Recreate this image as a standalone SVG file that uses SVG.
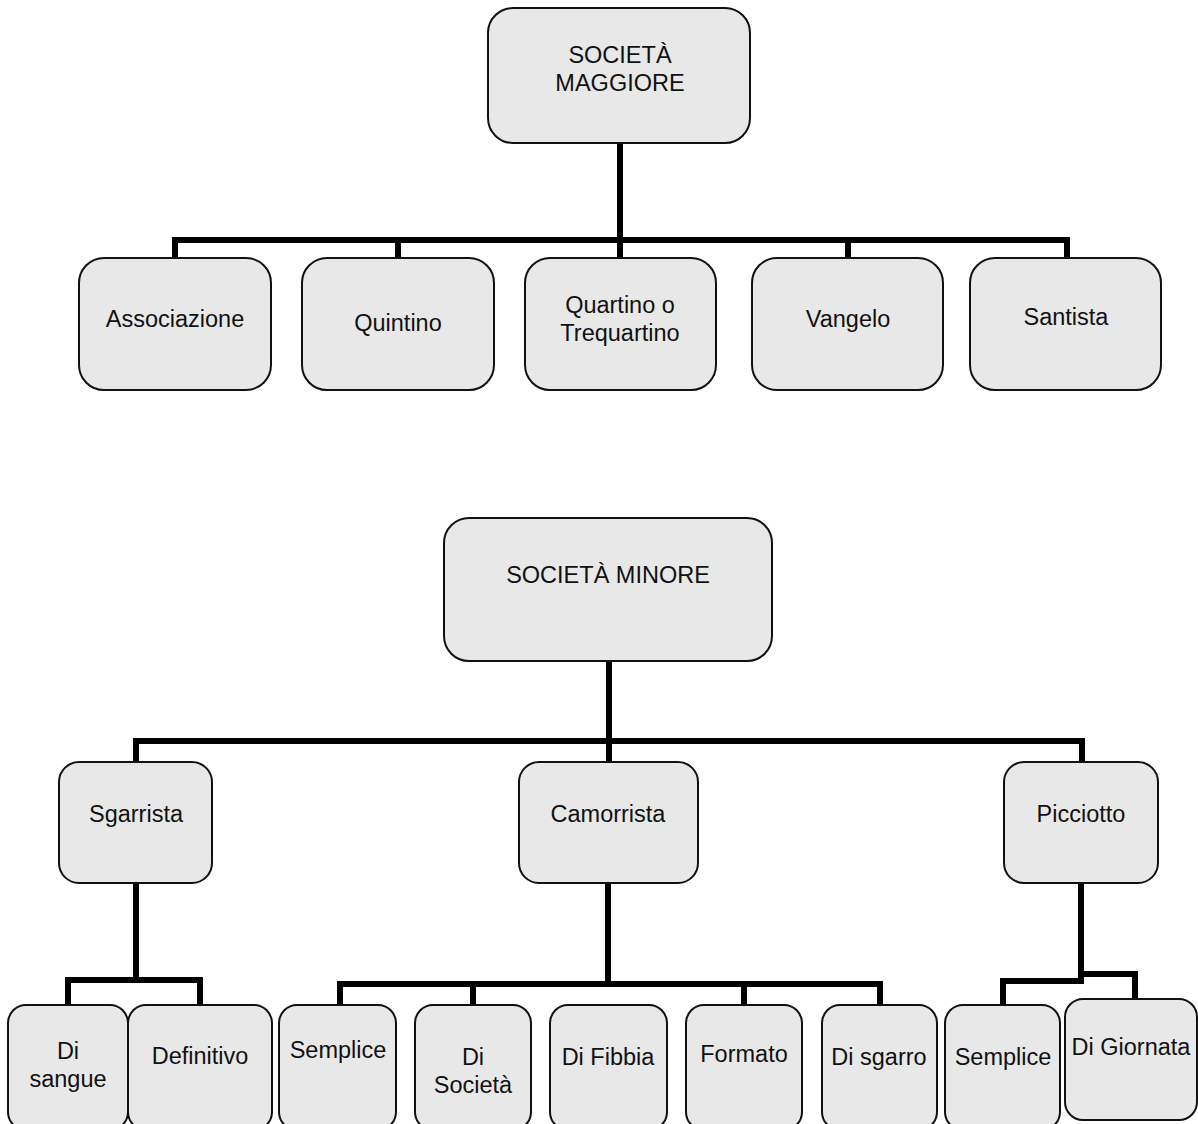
<svg xmlns="http://www.w3.org/2000/svg" width="1198" height="1124" viewBox="0 0 1198 1124">
<style>
.box{fill:#e8e8e8;stroke:#111;stroke-width:2}
.t{font-family:"Liberation Sans",Arial,sans-serif;font-size:23.5px;fill:#111;text-anchor:middle}
.c{fill:none;stroke:#000;stroke-width:6;stroke-linejoin:miter;stroke-linecap:butt}
</style>
<rect width="1198" height="1124" fill="#fff"/>
<g id="connectors" class="c">
<path d="M620 143V240M175 258V240H1067V258M398 240V258M620 240V258M848 240V258"/>
<path d="M609 661V741M136 762V741H1082V762M609 741V762"/>
<path d="M136 883V980M68 1005V980H200V1005"/>
<path d="M608 883V984M340 1005V984H880V1005M473 984V1005M744 984V1005"/>
<path d="M1081 883V981M1003 1005V981H1084M1081 974H1135V999"/>
</g>
<g id="n-maggiore"><rect class="box" x="488" y="8" width="262" height="135" rx="25"/><text class="t" x="620" y="63">SOCIETÀ</text><text class="t" x="620" y="91">MAGGIORE</text></g>
<g id="n-associazione"><rect class="box" x="79" y="258" width="192" height="132" rx="25"/><text class="t" x="175" y="327">Associazione</text></g>
<g id="n-quintino"><rect class="box" x="302" y="258" width="192" height="132" rx="25"/><text class="t" x="398" y="331">Quintino</text></g>
<g id="n-quartino"><rect class="box" x="525" y="258" width="191" height="132" rx="25"/><text class="t" x="620" y="313">Quartino o</text><text class="t" x="620" y="341">Trequartino</text></g>
<g id="n-vangelo"><rect class="box" x="752" y="258" width="191" height="132" rx="25"/><text class="t" x="848" y="327">Vangelo</text></g>
<g id="n-santista"><rect class="box" x="970" y="258" width="191" height="132" rx="25"/><text class="t" x="1066" y="325">Santista</text></g>
<g id="n-minore"><rect class="box" x="444" y="518" width="328" height="143" rx="25"/><text class="t" x="608" y="583">SOCIETÀ MINORE</text></g>
<g id="n-sgarrista"><rect class="box" x="59" y="762" width="153" height="121" rx="20"/><text class="t" x="136" y="822">Sgarrista</text></g>
<g id="n-camorrista"><rect class="box" x="519" y="762" width="179" height="121" rx="20"/><text class="t" x="608" y="822">Camorrista</text></g>
<g id="n-picciotto"><rect class="box" x="1004" y="762" width="154" height="121" rx="20"/><text class="t" x="1081" y="822">Picciotto</text></g>
<g id="n-disangue"><rect class="box" x="8" y="1005" width="120" height="125" rx="18"/><text class="t" x="68" y="1059">Di</text><text class="t" x="68" y="1087">sangue</text></g>
<g id="n-definitivo"><rect class="box" x="128" y="1005" width="144" height="125" rx="18"/><text class="t" x="200" y="1064">Definitivo</text></g>
<g id="n-semplice1"><rect class="box" x="279" y="1005" width="117" height="125" rx="18"/><text class="t" x="338" y="1058">Semplice</text></g>
<g id="n-disocieta"><rect class="box" x="415" y="1005" width="116" height="125" rx="18"/><text class="t" x="473" y="1065">Di</text><text class="t" x="473" y="1093">Società</text></g>
<g id="n-difibbia"><rect class="box" x="550" y="1005" width="117" height="125" rx="18"/><text class="t" x="608" y="1065">Di Fibbia</text></g>
<g id="n-formato"><rect class="box" x="686" y="1005" width="116" height="125" rx="18"/><text class="t" x="744" y="1062">Formato</text></g>
<g id="n-disgarro"><rect class="box" x="822" y="1005" width="115" height="125" rx="18"/><text class="t" x="879" y="1065">Di sgarro</text></g>
<g id="n-semplice2"><rect class="box" x="945" y="1005" width="115" height="125" rx="18"/><text class="t" x="1003" y="1065">Semplice</text></g>
<g id="n-digiornata"><rect class="box" x="1065" y="999" width="132" height="121" rx="18"/><text class="t" x="1131" y="1055">Di Giornata</text></g>
</svg>
